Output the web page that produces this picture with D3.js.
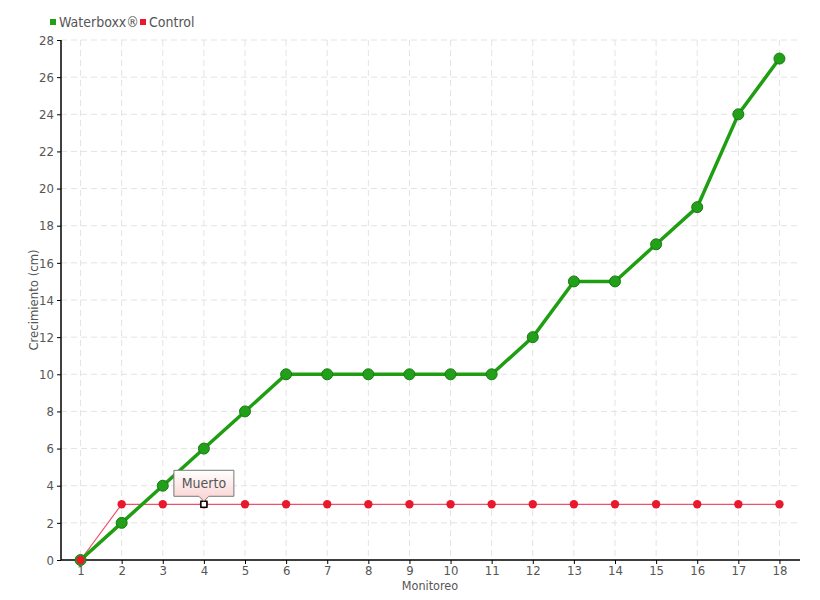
<!DOCTYPE html>
<html><head><meta charset="utf-8">
<script src="https://cdn.jsdelivr.net/npm/d3@7"></script>
<style>
body{margin:0;background:#fff;}
text{font-family:"DejaVu Sans Condensed","DejaVu Sans",sans-serif;font-stretch:condensed;fill:#555;}
</style></head>
<body><svg id="c" width="820" height="600"></svg>
<script>
const categories = ["1","2","3","4","5","6","7","8","9","10","11","12","13","14","15","16","17","18"];
const waterboxx = [0,2,4,6,8,10,10,10,10,10,10,12,15,15,17,19,24,27];
const control = [0,3,3,3,3,3,3,3,3,3,3,3,3,3,3,3,3,3];
const yTicks = d3.range(0, 29, 2);
const seriesNames = ["Waterboxx®", "Control"];
const tooltipLabel = "Muerto";
const tooltipIndex = 3;

const svg = d3.select("#c");
const x = d3.scalePoint().domain(categories).range([60, 800]).padding(0.5);
const y = d3.scaleLinear().domain([0, 28]).range([560, 40]);

// grid
const grid = svg.append("g");
grid.selectAll(".hg").data(yTicks).enter().append("line")
  .attr("x1", 61).attr("x2", 800).attr("y1", d => y(d)).attr("y2", d => y(d))
  .attr("stroke", "#e3e3e3").attr("stroke-dasharray", "6,4");
grid.selectAll(".vg").data(categories).enter().append("line")
  .attr("x1", d => x(d)).attr("x2", d => x(d)).attr("y1", 40).attr("y2", 560)
  .attr("stroke", "#e3e3e3").attr("stroke-dasharray", "6,4");

// axes
const yAxis = svg.append("g").attr("transform", "translate(61,0)")
  .call(d3.axisLeft(y).tickValues(yTicks).tickSize(4).tickPadding(3));
const xAxis = svg.append("g").attr("transform", "translate(0,560)")
  .call(d3.axisBottom(x).tickSize(4).tickPadding(2));
[yAxis, xAxis].forEach(a => {
  a.select(".domain").remove();
  a.selectAll("line").attr("stroke", "#000");
  a.selectAll("text").attr("font-size", 13).style("fill", "#555")
    .style("font-family", '"DejaVu Sans Condensed","DejaVu Sans",sans-serif').style("font-stretch", "condensed");
});
svg.append("line").attr("x1", 61).attr("x2", 61).attr("y1", 40).attr("y2", 560).attr("stroke", "#000").attr("stroke-width", 1.5);
svg.append("line").attr("x1", 61).attr("x2", 800).attr("y1", 560).attr("y2", 560).attr("stroke", "#000").attr("stroke-width", 1.5);

// axis titles
svg.append("text").attr("x", 430).attr("y", 590).attr("text-anchor", "middle").attr("font-size", 12.5).text("Monitoreo");
svg.append("text").attr("transform", "translate(38,300) rotate(-90)").attr("text-anchor", "middle").attr("font-size", 13).text("Crecimiento (cm)");

// lines
const line = d3.line().x((d, i) => x(categories[i])).y(d => y(d));
svg.append("path").datum(control).attr("d", line).attr("fill", "none").attr("stroke", "#f0506a").attr("stroke-width", 1.2);
svg.append("path").datum(waterboxx).attr("d", line).attr("fill", "none").attr("stroke", "#1f9e12").attr("stroke-width", 3.5);

svg.append("g").selectAll("circle").data(waterboxx).enter().append("circle")
  .attr("cx", (d, i) => x(categories[i])).attr("cy", d => y(d)).attr("r", 5.5)
  .attr("fill", "#22a01a").attr("stroke", "#187a12").attr("stroke-width", 1);
svg.append("g").selectAll("circle").data(control).enter().append("circle")
  .attr("cx", (d, i) => x(categories[i])).attr("cy", d => y(d)).attr("r", 4.2)
  .attr("fill", "#e8192c");

// highlight marker
const hx = x(categories[tooltipIndex]), hy = y(control[tooltipIndex]);
svg.append("rect").attr("x", hx - 3).attr("y", hy - 3).attr("width", 6).attr("height", 6)
  .attr("fill", "#fff").attr("stroke", "#000").attr("stroke-width", 1.5);

// tooltip
const defs = svg.append("defs");
const grad = defs.append("linearGradient").attr("id", "tg").attr("x1", 0).attr("y1", 0).attr("x2", 0).attr("y2", 1);
grad.append("stop").attr("offset", "0%").attr("stop-color", "#ffffff");
grad.append("stop").attr("offset", "100%").attr("stop-color", "#fbd0d0");
const tw = 60, th = 26, tx = hx - 30, ty = hy - 34;
const tp = `M${tx},${ty} h${tw} v${th} h${-(tw/2 - 5)} l-5,5 l-5,-5 h${-(tw/2 - 5)} Z`;
svg.append("path").attr("d", tp).attr("fill", "url(#tg)").attr("stroke", "#777").attr("stroke-width", 1);
svg.append("text").attr("x", hx).attr("y", ty + 18).attr("text-anchor", "middle").attr("font-size", 14).text(tooltipLabel);

// legend
const colors = ["#22a01a", "#e8192c"];
const lx = [50, 140];
seriesNames.forEach((n, i) => {
  svg.append("rect").attr("x", lx[i]).attr("y", 19).attr("width", 6).attr("height", 6).attr("fill", colors[i]);
  svg.append("text").attr("x", lx[i] + 9).attr("y", 27).attr("font-size", 14).text(n);
});
</script></body></html>
